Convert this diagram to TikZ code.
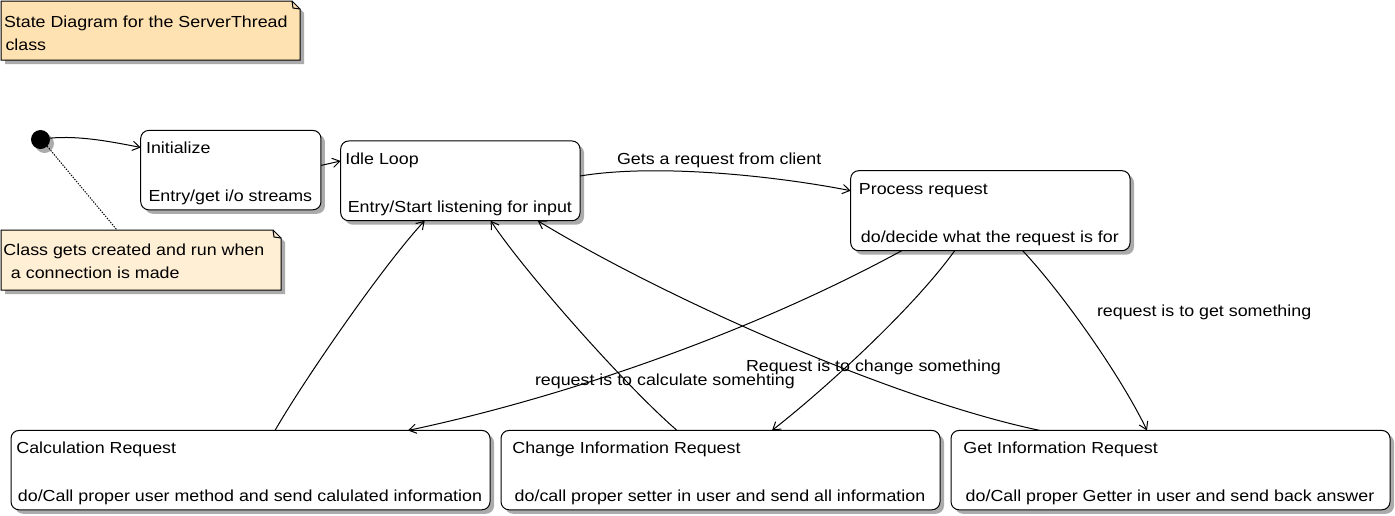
\documentclass[tikz,border=0pt]{standalone}
\usepackage{fontspec}
\setmainfont{Liberation Sans}[FakeStretch=1.115]
\usetikzlibrary{arrows.meta,shadows,calc}
\definecolor{noteA}{RGB}{255,226,178}
\definecolor{noteB}{RGB}{255,239,213}
\definecolor{shade}{RGB}{150,150,150}
\begin{document}
\begin{tikzpicture}[x=0.75pt,y=-0.75pt, line width=0.75pt,
  every node/.style={font=\fontsize{12pt}{14pt}\selectfont},
  shad/.style={drop shadow={shadow xshift=3pt, shadow yshift=-3pt, fill=shade, opacity=0.8}},
  statebox/.style={draw, rounded corners=6pt, fill=white, inner sep=0pt, outer sep=0pt, minimum height=59.5pt, shad},
  txt/.style={inner sep=0pt, outer sep=0pt},
  frame/.style={inner sep=0pt, outer sep=0pt, draw=none},
  notepath/.style={draw, shad},
  trans/.style={draw, -{Straight Barb[length=5.5pt,width=7pt]}},
  dots/.style={draw, dash pattern=on 1pt off 1pt},
]
\useasboundingbox (0,0) rectangle (1395,515);

% notes
\node[frame, minimum width=224.25pt, minimum height=44.25pt] (note1) at (150.5,30.5) {};
\path[notepath, fill=noteA] (note1.north west) -- ($(note1.north east)+(-8,0)$) -- ($(note1.north east)+(0,8)$) -- (note1.south east) -- (note1.south west) -- cycle;
\draw ($(note1.north east)+(-8,0)$) -- ($(note1.north east)+(-7,7)$) -- ($(note1.north east)+(0,8)$);
\node[txt, anchor=base west] (n1a) at ($(note1.north west)+(3,26)$) {State Diagram for the ServerThread};
\node[txt, anchor=base west] (n1b) at ($(n1a.base west)+(1.5,23)$) {class};

\node[frame, minimum width=210pt, minimum height=45pt] (note2) at (141,260) {};
\path[notepath, fill=noteB] (note2.north west) -- ($(note2.north east)+(-8,0)$) -- ($(note2.north east)+(0,8)$) -- (note2.south east) -- (note2.south west) -- cycle;
\draw ($(note2.north east)+(-8,0)$) -- ($(note2.north east)+(-7,7)$) -- ($(note2.north east)+(0,8)$);
\node[txt, anchor=base west] (n2a) at ($(note2.north west)+(2.5,25.7)$) {Class gets created and run when};
\node[txt, anchor=base west] (n2b) at ($(n2a.base west)+(7.5,22.7)$) {a connection is made};

% initial state
\node[circle, fill=black, minimum size=14.25pt, inner sep=0pt, outer sep=0pt, shad] (start) at (40.5,139.5) {};

% states
\node[statebox, minimum width=135.2pt] (init) at (230.85,170.1) {};
\node[statebox, minimum width=179.5pt, minimum height=59.8pt] (idle) at (460.35,180.85) {};
\node[statebox, minimum width=209.5pt, minimum height=60pt] (proc) at (990.35,210.7) {};
\node[statebox, minimum width=359.25pt] (calc) at (250.5,470.1) {};
\node[statebox, minimum width=329.25pt] (change) at (720.5,470.1) {};
\node[statebox, minimum width=329.25pt] (get) at (1170.5,470.1) {};

% state texts
\node[txt, anchor=base] (initB) at ($(init.south)+(-0.5,-8.5)$) {Entry/get i/o streams};
\node[txt, anchor=base west] (initT) at ($(initB.base west)+(-2.5,-48)$) {Initialize};
\node[txt, anchor=base] (idleB) at ($(idle.south)+(-0.5,-8.5)$) {Entry/Start listening for input};
\node[txt, anchor=base west] (idleT) at ($(idleB.base west)+(-2.5,-48)$) {Idle Loop};
\node[txt, anchor=base] (procB) at ($(proc.south)+(-0.5,-8.5)$) {do/decide what the request is for};
\node[txt, anchor=base west] (procT) at ($(procB.base west)+(-2,-48)$) {Process request};
\node[txt, anchor=base] (calcB) at ($(calc.south)+(-0.5,-8.5)$) {do/Call proper user method and send calulated information};
\node[txt, anchor=base west] (calcT) at ($(calcB.base west)+(-1.5,-48)$) {Calculation Request};
\node[txt, anchor=base] (changeB) at ($(change.south)+(-0.5,-8.5)$) {do/call proper setter in user and send all information};
\node[txt, anchor=base west] (changeT) at ($(changeB.base west)+(-2.3,-48)$) {Change Information Request};
\node[txt, anchor=base] (getB) at ($(get.south)+(-0.5,-8.5)$) {do/Call proper Getter in user and send back answer};
\node[txt, anchor=base west] (getT) at ($(getB.base west)+(-2.3,-48)$) {Get Information Request};

% transitions
\draw[trans] (start.8) .. controls +(30,-3) and +(-26,-5) .. ($(init.north west)+(0,17)$);
\draw[trans] ($(init.north east)+(0,35)$) -- ($(idle.north west)+(0,20)$);
\draw[trans] ($(idle.north east)+(0,35)$) .. controls +(79,-13) and +(-71,-14) .. ($(proc.north west)+(0,20)$);
\draw[trans] ($(proc.south west)+(51,0)$) .. controls +(-158,86) and +(147,-31) .. ($(calc.north west)+(397,0)$);
\draw[trans] ($(proc.south west)+(104,0)$) .. controls +(-41,57) and +(55,-43) .. ($(change.north west)+(271,0)$);
\draw[trans] ($(proc.south west)+(172,0)$) .. controls +(41,44) and +(-26,-54) .. ($(get.north west)+(196,0)$);
\draw[trans] ($(calc.north west)+(264,0)$) .. controls +(30,-52) and +(-41,44) .. ($(idle.south west)+(84,0)$);
\draw[trans] ($(change.north west)+(176,0)$) .. controls +(-53,-46) and +(33,50) .. ($(idle.south west)+(150,0)$);
\draw[trans] ($(get.north west)+(89,0)$) .. controls +(-144,-30) and +(130,79) .. ($(idle.south west)+(197,0)$);
\draw[dots] (start.-45) -- ($(note2.north west)+(116,0)$);

% transition labels
\node[txt, anchor=base west] (l1) at (617,164) {Gets a request from client};
\node[txt, anchor=base west] (l2) at (535,385) {request is to calculate somehting};
\node[txt, anchor=base west] (l3) at (746,371) {Request is to change something};
\node[txt, anchor=base west] (l4) at (1097,316) {request is to get something};
\end{tikzpicture}
\end{document}
